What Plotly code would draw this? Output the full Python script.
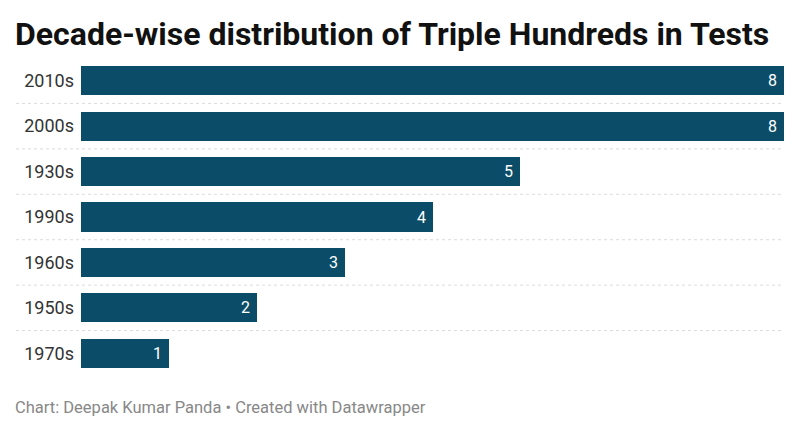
import plotly.graph_objects as go

decades = ["2010s", "2000s", "1930s", "1990s", "1960s", "1950s", "1970s"]
counts = [8, 8, 5, 4, 3, 2, 1]

title_text = "Decade-wise distribution of Triple Hundreds in Tests"
footer_text = "Chart: Deepak Kumar Panda • Created with Datawrapper"

idx = list(range(len(decades)))

fig = go.Figure(go.Bar(
    x=counts,
    y=idx,
    orientation="h",
    marker=dict(color="#0b4d68", line=dict(width=0)),
    width=0.64,
    texttemplate="%{x}\u2005",
    textposition="inside",
    insidetextanchor="end",
    textfont=dict(family="Roboto", size=16, color="#ffffff"),
    hoverinfo="skip",
))

# The page body adds an 8px margin, so figure coords = page coords - 8
W, H = 792, 427
ml, mr = 73, 16
mt, mb = 50, 59
plot_w = W - ml - mr
plot_h = H - mt - mb

shapes = []
for i in range(len(decades) - 1):
    shapes.append(dict(
        type="line", xref="paper", yref="y",
        x0=(8 - ml) / plot_w, x1=1,
        y0=i + 0.5, y1=i + 0.5,
        line=dict(color="#dcdcdc", width=1, dash="dot"),
        layer="below",
    ))

fig.update_layout(
    width=W, height=H,
    margin=dict(l=ml, r=mr, t=mt, b=mb),
    paper_bgcolor="white", plot_bgcolor="white",
    showlegend=False,
    bargap=0,
    xaxis=dict(range=[0, 8], visible=False, fixedrange=True),
    yaxis=dict(
        range=[len(decades) - 0.5, -0.5],
        tickvals=idx, ticktext=decades,
        showgrid=False, zeroline=False, showline=False,
        ticks="", ticklabelstandoff=6,
        tickfont=dict(family="Roboto", size=18, color="#333333"),
        fixedrange=True,
    ),
    shapes=shapes,
    annotations=[
        dict(text="<b>" + title_text + "</b>", xref="paper", yref="paper",
             x=(5 - ml) / plot_w, y=1 + (mt - 26) / plot_h,
             xanchor="left", yanchor="middle", showarrow=False,
             font=dict(family="Roboto", size=32, color="#111111")),
        dict(text=footer_text, xref="paper", yref="paper",
             x=(5 - ml) / plot_w, y=-(399 - (H - mb)) / plot_h,
             xanchor="left", yanchor="middle", showarrow=False,
             font=dict(family="Roboto", size=16.5, color="#888888")),
    ],
)

fig.write_html("out.html")
